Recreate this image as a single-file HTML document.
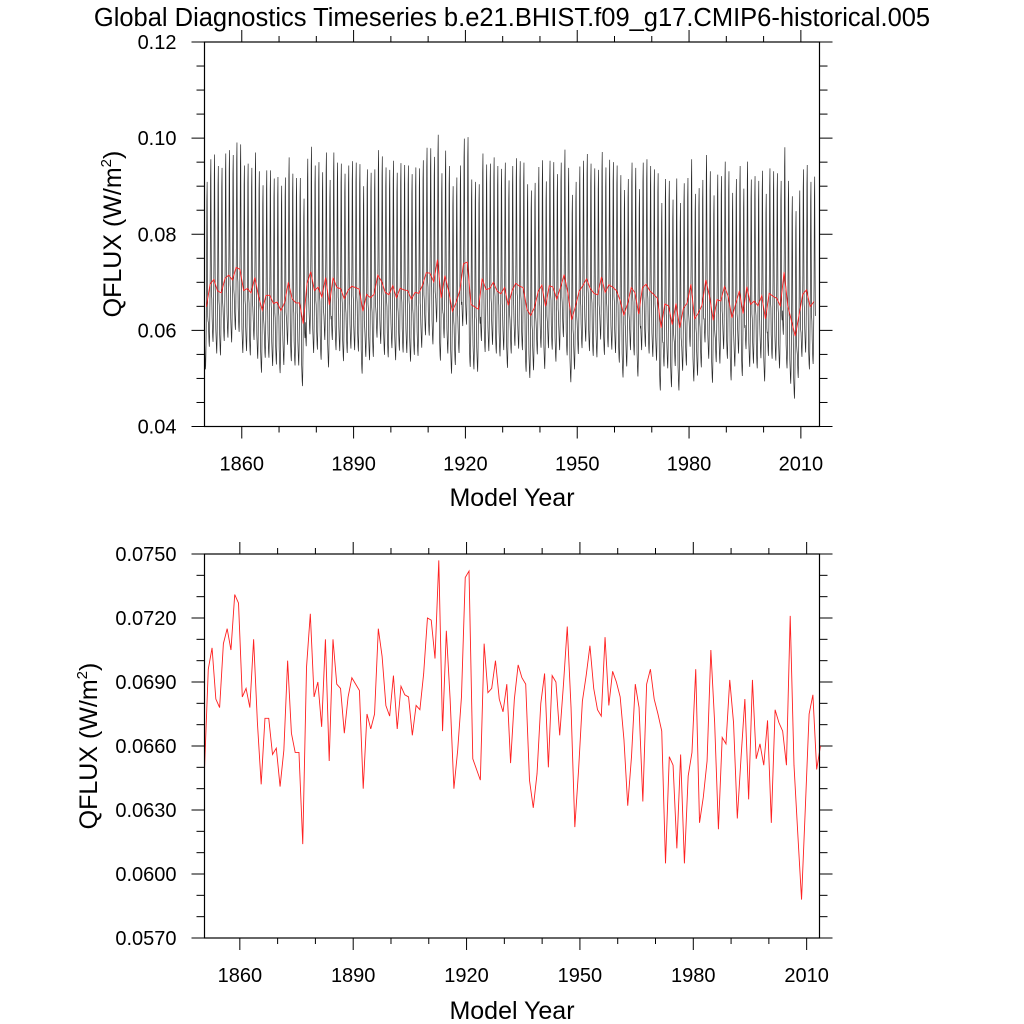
<!DOCTYPE html>
<html><head><meta charset="utf-8"><style>
html,body{margin:0;padding:0;background:#fff;}
svg{display:block;font-family:"Liberation Sans",Arial,sans-serif;}
</style></head><body>
<svg id="chart" width="1024" height="1024" viewBox="0 0 1024 1024" xmlns="http://www.w3.org/2000/svg">
<rect width="1024" height="1024" fill="#fff"/>
<text x="512" y="26" font-size="25.5" text-anchor="middle" fill="#000">Global Diagnostics Timeseries b.e21.BHIST.f09_g17.CMIP6-historical.005</text>
<g id="top"></g>
<g id="bot"></g>
<text x="512" y="506" font-size="25" text-anchor="middle">Model Year</text>
<text x="512" y="1019" font-size="25" text-anchor="middle">Model Year</text>
<text transform="translate(121,234) rotate(-90)" font-size="25" text-anchor="middle">QFLUX (W/m<tspan font-size="15" dy="-10">2</tspan><tspan dy="10">)</tspan></text>
<text transform="translate(97,746) rotate(-90)" font-size="25" text-anchor="middle">QFLUX (W/m<tspan font-size="15" dy="-10">2</tspan><tspan dy="10">)</tspan></text>
</svg>
<script>
// Annual mean QFLUX, years 1850..2013
const annualValues = [
0.0649,0.0696,0.0706,0.0682,0.0678,0.0708,0.0715,0.0705,0.0731,0.0727,
0.0683,0.0687,0.0678,0.0710,0.0671,0.0642,0.0673,0.0673,0.0656,0.0659,
0.0641,0.0658,0.0700,0.0666,0.0657,0.0657,0.0614,0.0697,0.0722,0.0683,
0.0690,0.0669,0.0710,0.0653,0.0710,0.0689,0.0687,0.0666,0.0683,0.0692,
0.0689,0.0686,0.0640,0.0675,0.0668,0.0675,0.0715,0.0702,0.0679,0.0674,
0.0693,0.0668,0.0688,0.0684,0.0683,0.0665,
0.0679,0.0677,0.0694,0.0720,0.0719,0.0701,0.0747,0.0667,0.0714,0.0682,
0.0640,0.0658,0.0683,0.0739,0.0742,0.0654,0.0649,0.0644,0.0708,0.0685,
0.0687,0.0700,0.0682,0.0676,0.0689,0.0652,0.0682,0.0698,0.0692,0.0689,
0.0644,0.0631,0.0647,0.0680,0.0694,0.0650,0.0693,0.0690,0.0665,0.0689,
0.0716,0.0678,0.0622,0.0649,0.0681,0.0693,0.0707,0.0687,0.0677,0.0674,
0.0711,0.0679,0.0695,0.0690,
0.0683,0.0663,
0.0632,0.0655,0.0689,0.0678,0.0634,0.0689,0.0696,0.0682,0.0675,0.0667,
0.0605,0.0655,0.0651,0.0612,0.0656,0.0605,0.0646,0.0657,0.0696,0.0624,
0.0636,0.0653,0.0705,0.0671,0.0621,0.0664,0.0661,0.0691,0.0671,0.0626,
0.0655,0.0682,0.0635,0.0691,0.0654,0.0661,0.0651,0.0672,0.0624,0.0677,
0.0671,0.0667,0.0651,0.0721,0.0651,0.0619,0.0588,0.0631,0.0675,0.0684,
0.0649,0.0660];
const firstYear = 1850;
// Mean seasonal anomaly by calendar month (Jan..Dec)
const seasonalAnomaly = [-0.008,-0.010,-0.012,-0.013,-0.010,-0.004,0.004,0.022,0.026,0.010,-0.002,-0.003];
const xTickLabels = ["1860","1890","1920","1950","1980","2010"];
const topYTicks = ["0.04","0.06","0.08","0.10","0.12"];
const botYTicks = ["0.0570","0.0600","0.0630","0.0660","0.0690","0.0720","0.0750"];

const NS="http://www.w3.org/2000/svg";
function mk(parent,tag,attrs){const e=document.createElementNS(NS,tag);for(const k in attrs)e.setAttribute(k,attrs[k]);parent.appendChild(e);return e;}

function drawPanel(g, P, xDom, yDom, yMinorStep, yLabels, prefix){
  const xs=v=>P.l+(v-xDom[0])/(xDom[1]-xDom[0])*(P.r-P.l);
  const ys=v=>P.b-(v-yDom[0])/(yDom[1]-yDom[0])*(P.b-P.t);
  const tk=mk(g,'g',{stroke:'#000','stroke-width':1});
  
  
  for(let y=1860;y<=xDom[1];y+=10){
    if(y<xDom[0])continue;
    const x=xs(y), L=(y-1860)%30===0?12:6;
    mk(tk,'line',{x1:x,x2:x,y1:P.b,y2:P.b+L});
    mk(tk,'line',{x1:x,x2:x,y1:P.t,y2:P.t-L});
  }
  const n=Math.round((yDom[1]-yDom[0])/yMinorStep);
  const majEvery=Math.round(n/(yLabels.length-1));
  for(let i=0;i<=n;i++){
    const y=ys(yDom[0]+i*yMinorStep), L=i%majEvery===0?13:8;
    mk(tk,'line',{x1:P.l,x2:P.l-L,y1:y,y2:y});
    mk(tk,'line',{x1:P.r,x2:P.r+L,y1:y,y2:y});
  }
  xTickLabels.forEach(t=>{
    const e=mk(g,'text',{x:xs(+t),y:P.b+44,'font-size':20,'text-anchor':'middle'});
    e.textContent=t;
    
    
  });
  yLabels.forEach(t=>{
    const e=mk(g,'text',{x:P.l-28,y:ys(+t)+7,'font-size':20,'text-anchor':'end'});
    e.textContent=t;
    
    
  });
  return {xs,ys};
}

// Top panel (monthly)
const PT={l:204.5,r:819.5,t:42,b:426.5};
const gt=document.getElementById('top');
const st=drawPanel(gt,PT,[1850,2015],[0.04,0.12],0.005,topYTicks,'top');
let dm='';
annualValues.forEach((v,i)=>{
  seasonalAnomaly.forEach((s,m)=>{
    const x=st.xs(firstYear+i+(m+0.5)/12), y=st.ys(v+s);
    dm+=(dm?'L':'M')+x.toFixed(2)+','+y.toFixed(2);
  });
});
const ml=mk(gt,'path',{d:dm,fill:'none',stroke:'#2a2a2a','stroke-width':0.7});


let da='';
annualValues.forEach((v,i)=>{da+=(da?'L':'M')+st.xs(firstYear+i+0.5).toFixed(2)+','+st.ys(v).toFixed(2);});
const al=mk(gt,'path',{d:da,fill:'none',stroke:'#ff2020','stroke-width':0.9});


const bt=mk(gt,'rect',{x:PT.l,y:PT.t,width:PT.r-PT.l,height:PT.b-PT.t,fill:'none',stroke:'#000','stroke-width':1.2});



// Bottom panel (annual)
const PB={l:204.5,r:819.5,t:554,b:938};
const gb=document.getElementById('bot');
const sb=drawPanel(gb,PB,[1850.65,2013.4],[0.057,0.075],0.001,botYTicks,'bottom');
let db='';
annualValues.forEach((v,i)=>{db+=(db?'L':'M')+sb.xs(firstYear+i+0.65).toFixed(2)+','+sb.ys(v).toFixed(2);});
const bl=mk(gb,'path',{d:db,fill:'none',stroke:'#ff2020','stroke-width':0.9});


const bb=mk(gb,'rect',{x:PB.l,y:PB.t,width:PB.r-PB.l,height:PB.b-PB.t,fill:'none',stroke:'#000','stroke-width':1.2});


</script>
</body></html>
